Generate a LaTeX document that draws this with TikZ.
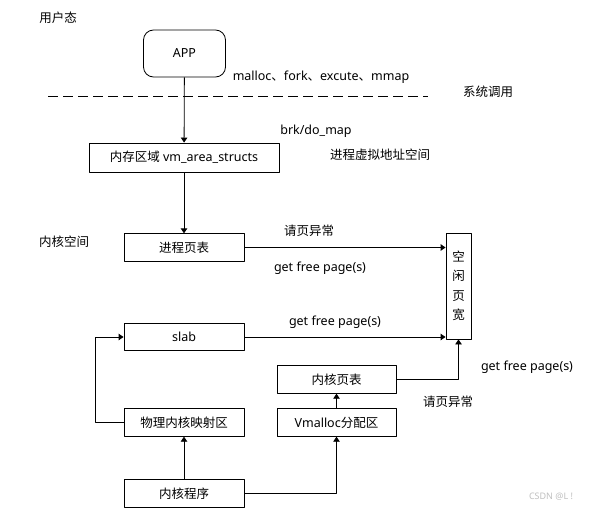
\documentclass[tikz,border=0pt]{standalone}
\usepackage{fontspec}
\setmainfont{Noto Sans}
\newfontfamily\cjk{Noto Sans CJK SC}
\usetikzlibrary{arrows.meta}
\newcommand{\dun}{{\cjk 、}}
\begin{document}
\begin{tikzpicture}[x=1pt,y=-1pt, font=\fontsize{12.5}{15}\selectfont, line join=round, line width=0.8pt,
		>={Triangle[length=5pt,width=6.5pt]},
		box/.style={draw, inner sep=0pt, minimum width=120pt, minimum height=27.5pt},
		lbl/.style={inner sep=0pt}]
	\useasboundingbox (0,0) rectangle (589,508);
	% user space
	\node[lbl] (user) at (58,18) {\cjk 用户态};
	\node[box, rounded corners=10pt, minimum width=82pt, minimum height=47pt] (app) at (184.5,53.5) {APP};
	\node[lbl] (calls) at (321,77) {malloc\dun fork\dun excute\dun mmap};
	\draw[dashed, dash pattern=on 10pt off 5pt] (48,96)--(428,96);
	\node[lbl] (sys) at (488,92) {\cjk 系统调用};
	% kernel
	\node[box, minimum width=190pt, minimum height=29pt] (vma) at (184,157.5) {{\cjk 内存区域} vm\_area\_structs};
	\node[lbl] (brk) at (316,131) {brk/do\_map};
	\node[lbl] (vspace) at (380,155) {\cjk 进程虚拟地址空间};
	\node[lbl] (kspace) at (64,242) {\cjk 内核空间};
	\node[box] (ptable) at (184,247.5) {\cjk 进程页表};
	\node[box] (slab) at (184,337) {slab};
	\node[box] (phys) at (184,422.5) {\cjk 物理内核映射区};
	\node[box] (kprog) at (184,493.5) {\cjk 内核程序};
	\node[box, minimum width=119pt] (kptable) at (336.5,379.5) {\cjk 内核页表};
	\node[box, minimum width=119pt] (vmalloc) at (336.5,422.5) {Vmalloc{\cjk 分配区}};
	\node[box, minimum width=25pt, minimum height=106pt, align=center, font=\cjk\fontsize{12.5}{19.5}\selectfont] (free) at (458.5,286) {空\\闲\\页\\宽};
	% connectors
	\draw[->] (app)--(vma);
	\draw[->] (vma)--(ptable);
	\draw[->] (ptable.east)--(ptable.east -| free.west);
	\draw[->] (slab.east)--(slab.east -| free.west);
	\draw[->] (kptable.east) -| (free.south);
	\draw[->] (vmalloc)--(kptable);
	\draw[->] (kprog)--(phys);
	\draw[->] (kprog.east) -| (vmalloc.south);
	\draw[->] (phys.west)--++(-28,0) |- (slab.west);
	% labels on the arrows
	\node[lbl] (fault1) at (309,231) {\cjk 请页异常};
	\node[lbl] (gfp1) at (320,268) {get free page(s)};
	\node[lbl] (gfp2) at (335,322) {get free page(s)};
	\node[lbl] (gfp3) at (527,367) {get free page(s)};
	\node[lbl] (fault2) at (448,402) {\cjk 请页异常};
	\node[lbl, text=black!25, font=\fontsize{9}{11}\selectfont] (mark) at (551,497) {CSDN @L !};
\end{tikzpicture}
\end{document}
